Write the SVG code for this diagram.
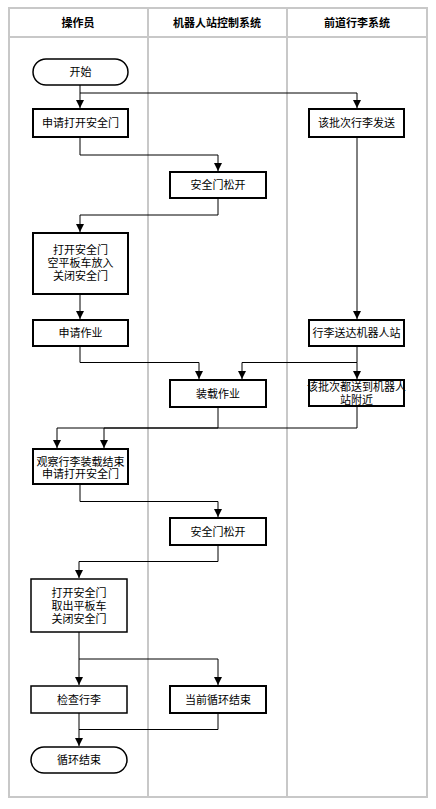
<svg xmlns="http://www.w3.org/2000/svg" width="436" height="809" viewBox="0 0 436 809">
<style>
text{font-family:"Liberation Sans","Noto Sans CJK SC",sans-serif;font-size:11px;fill:#000;text-anchor:middle;dominant-baseline:central}
.hd{font-weight:bold}
.lane{fill:none;stroke:#c8c8c8;stroke-width:2}
.box{fill:#fff;stroke:#000;stroke-width:2}
.term{fill:#fff;stroke:#000;stroke-width:1.5}
.box2{fill:#fff;stroke:#000;stroke-width:1.5}
.c{fill:none;stroke:#000;stroke-width:1}
</style>
<defs>
<marker id="ah" viewBox="0 0 8 8" refX="8" refY="4" markerWidth="8" markerHeight="8" markerUnits="userSpaceOnUse" orient="auto">
<path d="M0,0 L8,4 L0,8 Z" fill="#000"/>
</marker>
</defs>
<rect width="436" height="809" fill="#fff"/>
<g id="lanes">
<rect class="lane" x="9" y="8" width="418" height="789"/>
<line class="lane" x1="9" y1="37" x2="427" y2="37"/>
<line class="lane" x1="148" y1="8" x2="148" y2="797"/>
<line class="lane" x1="287" y1="8" x2="287" y2="797"/>
<text class="hd" x="78" y="23">操作员</text>
<text class="hd" x="217" y="23">机器人站控制系统</text>
<text class="hd" x="357" y="23">前道行李系统</text>
</g>
<g id="connectors">
<path class="c" d="M80,85 V108" marker-end="url(#ah)"/>
<path class="c" d="M80,93 H357 V108" marker-end="url(#ah)"/>
<path class="c" d="M80,137 V155 H218 V171" marker-end="url(#ah)"/>
<path class="c" d="M218,198 V215 H80 V232" marker-end="url(#ah)"/>
<path class="c" d="M357,137 V319" marker-end="url(#ah)"/>
<path class="c" d="M80,294 V319" marker-end="url(#ah)"/>
<path class="c" d="M80,346 V362.5 H199 V379" marker-end="url(#ah)"/>
<path class="c" d="M357,346 V362.5 H242 V379" marker-end="url(#ah)"/>
<path class="c" d="M357,362.5 V379" marker-end="url(#ah)"/>
<path class="c" d="M218,407 V428 H57 V448" marker-end="url(#ah)"/>
<path class="c" d="M357,406 V428 H104 V448" marker-end="url(#ah)"/>
<path class="c" d="M80,484 V501.5 H218 V517" marker-end="url(#ah)"/>
<path class="c" d="M218,545 V561.5 H79 V578" marker-end="url(#ah)"/>
<path class="c" d="M79,632 V685" marker-end="url(#ah)"/>
<path class="c" d="M79,659 H218 V685" marker-end="url(#ah)"/>
<path class="c" d="M79,713 V746" marker-end="url(#ah)"/>
<path class="c" d="M218,713 V729.5 H79"/>
</g>
<g id="start"><rect class="term" x="33" y="59" width="95" height="26" rx="13"/><text x="80.5" y="72">开始</text></g>
<g id="n1"><rect class="box" x="33" y="109" width="95" height="28"/><text x="80.5" y="123">申请打开安全门</text></g>
<g id="r1"><rect class="box" x="309" y="109" width="95" height="28"/><text x="356.5" y="123">该批次行李发送</text></g>
<g id="m1"><rect class="box" x="170" y="172" width="96" height="26"/><text x="218" y="185">安全门松开</text></g>
<g id="n2"><rect class="box" x="33" y="233" width="95" height="61"/><text x="80.5" y="250">打开安全门</text><text x="80.5" y="263">空平板车放入</text><text x="80.5" y="276">关闭安全门</text></g>
<g id="n3"><rect class="box" x="33" y="320" width="95" height="26"/><text x="80.5" y="333">申请作业</text></g>
<g id="r2"><rect class="box" x="309" y="320" width="95" height="26"/><text x="356.5" y="333">行李送达机器人站</text></g>
<g id="m2"><rect class="box" x="170" y="380" width="96" height="27"/><text x="218" y="393.5">装载作业</text></g>
<g id="r3"><rect class="box" x="309" y="380" width="95" height="26"/><text x="356.5" y="387">该批次都送到机器人</text><text x="356.5" y="400">站附近</text></g>
<g id="n4"><rect class="box" x="33" y="449" width="95" height="35"/><text x="80.5" y="461.5">观察行李装载结束</text><text x="80.5" y="474">申请打开安全门</text></g>
<g id="m3"><rect class="box" x="170" y="518" width="96" height="27"/><text x="218" y="531.5">安全门松开</text></g>
<g id="n5"><rect class="box2" x="31" y="579" width="96" height="53"/><text x="79" y="593">打开安全门</text><text x="79" y="606">取出平板车</text><text x="79" y="618.5">关闭安全门</text></g>
<g id="n6"><rect class="box2" x="31" y="686" width="96" height="27"/><text x="79" y="699.5">检查行李</text></g>
<g id="m4"><rect class="box" x="170" y="686" width="96" height="27"/><text x="218" y="699.5">当前循环结束</text></g>
<g id="end"><rect class="term" x="31" y="747" width="96" height="26" rx="13"/><text x="79" y="760">循环结束</text></g>
</svg>
